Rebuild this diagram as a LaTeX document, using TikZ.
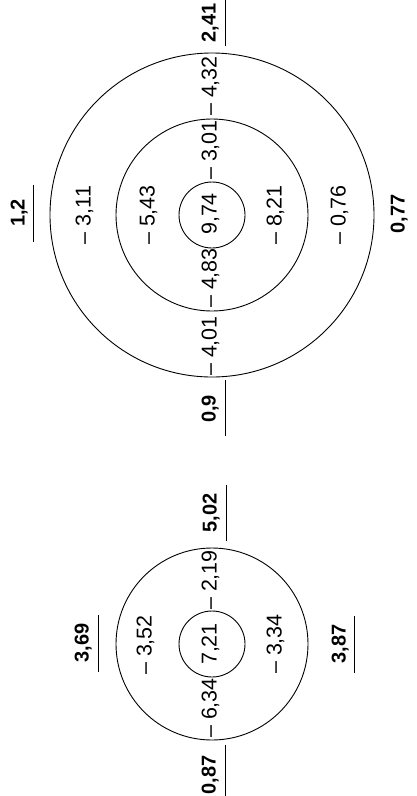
\documentclass[tikz,border=0pt]{standalone}
\usepackage{fontspec}
\setmainfont{Liberation Sans}
\begin{document}
\begin{tikzpicture}[x=1pt, y=-1pt, line width=0.9pt,
    ring/.style={draw, circle, inner sep=0pt},
    val/.style={rotate=90, inner sep=0pt, text height=0.72em, text depth=0pt,
      font=\fontsize{21.5}{24}\selectfont},
    key/.style={val, font=\fontsize{20}{24}\selectfont\bfseries}]
  \useasboundingbox (0,0) rectangle (417,796);
  % right target (three rings)
  \node[ring, minimum size=324pt] (outerA) at (212,215) {};
  \node[ring, minimum size=192pt] (midA) at (212,215) {};
  \node[ring, minimum size=66pt] (coreA) at (212,215) {};
  \node[val] (cA) at (213,214) {9,74};
  \node[val] (dA) at (213,278) {– 4,83};
  \node[val] (eA) at (213,346) {– 4,01};
  \node[val] (uA) at (213,150) {– 3,01};
  \node[val] (vA) at (213,86) {– 4,32};
  \node[val] (lA) at (87,215) {– 3,11};
  \node[val] (mA) at (151,215) {– 5,43};
  \node[val] (rA) at (278,215) {– 8,21};
  \node[val] (sA) at (342,215) {– 0,76};
  \node[key] (kA1) at (212,409) {0,9};
  \node[key] (kA2) at (212,23) {2,41};
  \node[key] (kA3) at (21,213) {1,2};
  \node[key] (kA4) at (401,214) {0,77};
  % left target (two rings)
  \node[ring, minimum size=192pt] (outerB) at (212,644) {};
  \node[ring, minimum size=66pt] (coreB) at (212,644) {};
  \node[val] (cB) at (213,644) {7,21};
  \node[val] (dB) at (213,708) {– 6,34};
  \node[val] (uB) at (213,580) {– 2,19};
  \node[val] (lB) at (148,645) {– 3,52};
  \node[val] (rB) at (278,644) {– 3,34};
  \node[key] (kB1) at (85,643) {3,69};
  \node[key] (kB2) at (342,644) {3,87};
  \node[key] (kB3) at (213,513) {5,02};
  \node[key] (kB4) at (212,775) {0,87};
  % underlines of the bold values
  \foreach \ux/\ua/\ub in {225/380/436, 225/-10/46, 33/185/242,
      98/615/672, 354/616/673, 226/485/541, 225/745/801}
    \draw (\ux,\ua) -- (\ux,\ub);
\end{tikzpicture}
\end{document}
